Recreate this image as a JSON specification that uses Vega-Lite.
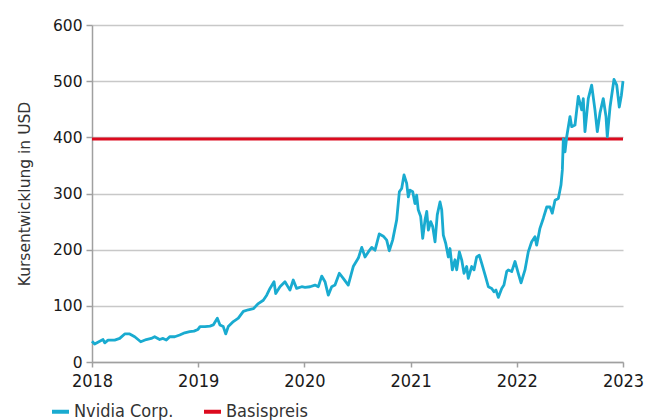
{
  "$schema": "https://vega.github.io/schema/vega-lite/v6.json",
  "width": 531,
  "height": 337,
  "autosize": {"type": "none"},
  "padding": {"left": 92, "top": 25, "right": 22, "bottom": 58},
  "background": "white",
  "config": {
    "view": {"stroke": null},
    "font": "DejaVu Sans",
    "axis": {
      "labelFont": "DejaVu Sans",
      "titleFont": "DejaVu Sans",
      "labelColor": "#1a1a1a",
      "domainColor": "#a0a0a0",
      "tickColor": "#a0a0a0",
      "domainWidth": 1.5,
      "tickWidth": 1.5
    }
  },
  "layer": [
    {
      "data": {"values": [{"kurs": 397}]},
      "mark": {"type": "rule", "strokeWidth": 2.8},
      "encoding": {
        "y": {"field": "kurs", "type": "quantitative"},
        "color": {"datum": "Basispreis"}
      }
    },
    {
      "data": {
        "values": [
          {"jahr": 2018.000, "kurs": 37}, {"jahr": 2018.025, "kurs": 32}, {"jahr": 2018.073, "kurs": 37},
          {"jahr": 2018.104, "kurs": 40}, {"jahr": 2018.120, "kurs": 34}, {"jahr": 2018.151, "kurs": 39},
          {"jahr": 2018.214, "kurs": 39}, {"jahr": 2018.261, "kurs": 42}, {"jahr": 2018.308, "kurs": 50},
          {"jahr": 2018.355, "kurs": 50}, {"jahr": 2018.402, "kurs": 45}, {"jahr": 2018.459, "kurs": 36},
          {"jahr": 2018.511, "kurs": 40}, {"jahr": 2018.558, "kurs": 42}, {"jahr": 2018.590, "kurs": 45},
          {"jahr": 2018.637, "kurs": 40}, {"jahr": 2018.669, "kurs": 42}, {"jahr": 2018.700, "kurs": 39},
          {"jahr": 2018.732, "kurs": 45}, {"jahr": 2018.779, "kurs": 45}, {"jahr": 2018.826, "kurs": 48},
          {"jahr": 2018.873, "kurs": 52}, {"jahr": 2018.920, "kurs": 54}, {"jahr": 2018.960, "kurs": 55},
          {"jahr": 2018.998, "kurs": 58}, {"jahr": 2019.017, "kurs": 63}, {"jahr": 2019.064, "kurs": 63},
          {"jahr": 2019.111, "kurs": 64}, {"jahr": 2019.142, "kurs": 66}, {"jahr": 2019.180, "kurs": 78},
          {"jahr": 2019.205, "kurs": 66}, {"jahr": 2019.236, "kurs": 63}, {"jahr": 2019.259, "kurs": 50},
          {"jahr": 2019.283, "kurs": 63}, {"jahr": 2019.331, "kurs": 72}, {"jahr": 2019.378, "kurs": 78},
          {"jahr": 2019.425, "kurs": 90}, {"jahr": 2019.472, "kurs": 93}, {"jahr": 2019.519, "kurs": 95},
          {"jahr": 2019.566, "kurs": 104}, {"jahr": 2019.613, "kurs": 110}, {"jahr": 2019.645, "kurs": 119},
          {"jahr": 2019.676, "kurs": 131}, {"jahr": 2019.714, "kurs": 143}, {"jahr": 2019.730, "kurs": 122},
          {"jahr": 2019.770, "kurs": 134}, {"jahr": 2019.817, "kurs": 143}, {"jahr": 2019.864, "kurs": 128},
          {"jahr": 2019.895, "kurs": 146}, {"jahr": 2019.927, "kurs": 131}, {"jahr": 2019.975, "kurs": 134},
          {"jahr": 2020.006, "kurs": 133}, {"jahr": 2020.053, "kurs": 134}, {"jahr": 2020.100, "kurs": 137},
          {"jahr": 2020.131, "kurs": 134}, {"jahr": 2020.163, "kurs": 153}, {"jahr": 2020.194, "kurs": 143},
          {"jahr": 2020.225, "kurs": 119}, {"jahr": 2020.257, "kurs": 134}, {"jahr": 2020.288, "kurs": 137},
          {"jahr": 2020.329, "kurs": 158}, {"jahr": 2020.366, "kurs": 149}, {"jahr": 2020.413, "kurs": 137},
          {"jahr": 2020.460, "kurs": 170}, {"jahr": 2020.508, "kurs": 185}, {"jahr": 2020.540, "kurs": 204},
          {"jahr": 2020.571, "kurs": 187}, {"jahr": 2020.602, "kurs": 196}, {"jahr": 2020.634, "kurs": 204},
          {"jahr": 2020.665, "kurs": 199}, {"jahr": 2020.705, "kurs": 228}, {"jahr": 2020.743, "kurs": 224},
          {"jahr": 2020.775, "kurs": 217}, {"jahr": 2020.799, "kurs": 198}, {"jahr": 2020.831, "kurs": 217},
          {"jahr": 2020.869, "kurs": 253}, {"jahr": 2020.894, "kurs": 303}, {"jahr": 2020.916, "kurs": 309},
          {"jahr": 2020.938, "kurs": 333}, {"jahr": 2020.963, "kurs": 318}, {"jahr": 2020.978, "kurs": 294},
          {"jahr": 2020.994, "kurs": 306}, {"jahr": 2021.020, "kurs": 303}, {"jahr": 2021.041, "kurs": 282},
          {"jahr": 2021.057, "kurs": 297}, {"jahr": 2021.072, "kurs": 271}, {"jahr": 2021.095, "kurs": 259},
          {"jahr": 2021.114, "kurs": 220}, {"jahr": 2021.136, "kurs": 253}, {"jahr": 2021.152, "kurs": 268},
          {"jahr": 2021.167, "kurs": 235}, {"jahr": 2021.189, "kurs": 250}, {"jahr": 2021.208, "kurs": 241},
          {"jahr": 2021.230, "kurs": 214}, {"jahr": 2021.251, "kurs": 262}, {"jahr": 2021.277, "kurs": 285},
          {"jahr": 2021.293, "kurs": 271}, {"jahr": 2021.308, "kurs": 226}, {"jahr": 2021.331, "kurs": 211},
          {"jahr": 2021.355, "kurs": 187}, {"jahr": 2021.371, "kurs": 202}, {"jahr": 2021.393, "kurs": 164},
          {"jahr": 2021.418, "kurs": 182}, {"jahr": 2021.434, "kurs": 164}, {"jahr": 2021.459, "kurs": 196},
          {"jahr": 2021.481, "kurs": 182}, {"jahr": 2021.503, "kurs": 158}, {"jahr": 2021.528, "kurs": 170},
          {"jahr": 2021.543, "kurs": 149}, {"jahr": 2021.575, "kurs": 170}, {"jahr": 2021.597, "kurs": 164},
          {"jahr": 2021.622, "kurs": 187}, {"jahr": 2021.647, "kurs": 190}, {"jahr": 2021.669, "kurs": 176},
          {"jahr": 2021.701, "kurs": 155}, {"jahr": 2021.732, "kurs": 134}, {"jahr": 2021.764, "kurs": 131},
          {"jahr": 2021.785, "kurs": 125}, {"jahr": 2021.804, "kurs": 128}, {"jahr": 2021.826, "kurs": 115},
          {"jahr": 2021.858, "kurs": 131}, {"jahr": 2021.879, "kurs": 137}, {"jahr": 2021.905, "kurs": 161},
          {"jahr": 2021.920, "kurs": 164}, {"jahr": 2021.952, "kurs": 161}, {"jahr": 2021.983, "kurs": 179},
          {"jahr": 2022.014, "kurs": 158}, {"jahr": 2022.040, "kurs": 141}, {"jahr": 2022.077, "kurs": 164},
          {"jahr": 2022.108, "kurs": 196}, {"jahr": 2022.140, "kurs": 214}, {"jahr": 2022.171, "kurs": 223},
          {"jahr": 2022.187, "kurs": 208}, {"jahr": 2022.218, "kurs": 238}, {"jahr": 2022.250, "kurs": 256},
          {"jahr": 2022.282, "kurs": 276}, {"jahr": 2022.313, "kurs": 276}, {"jahr": 2022.334, "kurs": 265},
          {"jahr": 2022.360, "kurs": 288}, {"jahr": 2022.391, "kurs": 291}, {"jahr": 2022.416, "kurs": 315},
          {"jahr": 2022.429, "kurs": 342}, {"jahr": 2022.438, "kurs": 397}, {"jahr": 2022.454, "kurs": 374},
          {"jahr": 2022.470, "kurs": 401}, {"jahr": 2022.501, "kurs": 437}, {"jahr": 2022.517, "kurs": 419},
          {"jahr": 2022.548, "kurs": 422}, {"jahr": 2022.579, "kurs": 473}, {"jahr": 2022.611, "kurs": 449},
          {"jahr": 2022.626, "kurs": 469}, {"jahr": 2022.642, "kurs": 410}, {"jahr": 2022.673, "kurs": 469},
          {"jahr": 2022.705, "kurs": 493}, {"jahr": 2022.736, "kurs": 449}, {"jahr": 2022.758, "kurs": 410},
          {"jahr": 2022.783, "kurs": 443}, {"jahr": 2022.814, "kurs": 469}, {"jahr": 2022.840, "kurs": 437},
          {"jahr": 2022.852, "kurs": 401}, {"jahr": 2022.878, "kurs": 454}, {"jahr": 2022.915, "kurs": 503},
          {"jahr": 2022.941, "kurs": 493}, {"jahr": 2022.965, "kurs": 454}, {"jahr": 2022.985, "kurs": 475},
          {"jahr": 2023.000, "kurs": 500}
        ]
      },
      "mark": {"type": "line", "strokeWidth": 2.8, "strokeJoin": "round"},
      "encoding": {
        "x": {
          "field": "jahr",
          "type": "quantitative",
          "scale": {"domain": [2018, 2023], "nice": false, "zero": false},
          "axis": {
            "title": null,
            "values": [2018, 2019, 2020, 2021, 2022, 2023],
            "format": "d",
            "grid": false,
            "labelFont": "DejaVu Sans Condensed",
            "labelFontSize": 18,
            "tickSize": 5,
            "labelPadding": 5,
            "labelFlush": false
          }
        },
        "y": {
          "field": "kurs",
          "type": "quantitative",
          "scale": {"domain": [0, 600], "nice": false},
          "axis": {
            "title": "Kursentwicklung in USD",
            "titleFontSize": 15.5,
            "titleFontWeight": "normal",
            "titleColor": "#333333",
            "titlePadding": 20,
            "values": [0, 100, 200, 300, 400, 500, 600],
            "grid": true,
            "gridColor": "#c8c8c8",
            "gridWidth": 1.5,
            "labelFontSize": 15.5,
            "tickSize": 6,
            "labelPadding": 4
          }
        },
        "color": {
          "datum": "Nvidia Corp.",
          "scale": {"domain": ["Nvidia Corp.", "Basispreis"], "range": ["#19abd0", "#dc0a1e"]},
          "legend": {
            "title": null,
            "orient": "none",
            "legendX": -42,
            "legendY": 376,
            "direction": "horizontal",
            "symbolType": "stroke",
            "symbolStrokeWidth": 4,
            "symbolSize": 289,
            "labelFontSize": 18,
            "labelFont": "DejaVu Sans Condensed",
            "labelColor": "#333333",
            "labelOffset": 3,
            "columnPadding": 22
          }
        }
      }
    }
  ]
}
